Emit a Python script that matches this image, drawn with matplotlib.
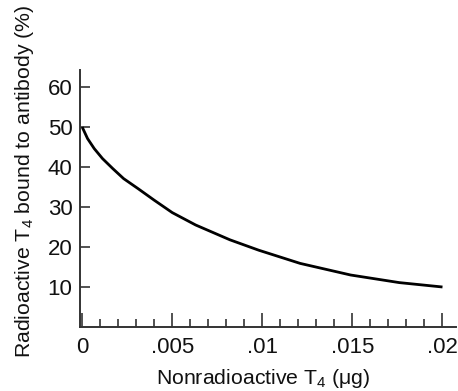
import matplotlib
matplotlib.use("Agg")
from matplotlib import pyplot as plt
from matplotlib.ticker import MultipleLocator

# values
t4_cold = [0, 0.0003, 0.00067, 0.00113, 0.0017, 0.0023, 0.0031, 0.0040, 0.0050,
           0.0063, 0.0082, 0.0098, 0.0121, 0.0149, 0.0176, 0.0200]
pct_bound = [50, 47.1, 44.6, 42.1, 39.6, 37.1, 34.6, 31.7, 28.6,
             25.5, 21.8, 19.2, 15.9, 13.0, 11.1, 10.0]

x_ticks = [0, 0.005, 0.01, 0.015, 0.02]
x_ticklabels = ['0', '.005', '.01', '.015', '.02']
y_ticks = [10, 20, 30, 40, 50, 60]

plt.rcParams['font.family'] = ['Liberation Sans', 'DejaVu Sans']
plt.rcParams['mathtext.fontset'] = 'custom'
plt.rcParams['mathtext.rm'] = 'Liberation Sans'
plt.rcParams['mathtext.it'] = 'Liberation Sans'

fig = plt.figure(figsize=(4.58, 3.91), dpi=100)
ax = fig.add_axes([80 / 458, 64 / 391, 376 / 458, 257 / 391])

ax.plot(t4_cold, pct_bound, color='black', linewidth=2.0,
        solid_capstyle='butt', solid_joinstyle='round')

ax.set_xlim(-0.00012, 0.02075)
ax.set_ylim(0, 64.25)

# axis styling: only left and bottom spines, ticks pointing in
for side in ['top', 'right']:
    ax.spines[side].set_visible(False)
for side in ['left', 'bottom']:
    ax.spines[side].set_linewidth(1.4)
    ax.spines[side].set_color('#333333')

ax.set_xticks(x_ticks)
ax.set_xticklabels(x_ticklabels)
ax.xaxis.set_minor_locator(MultipleLocator(0.001))
ax.set_yticks(y_ticks)

ax.tick_params(axis='both', which='major', direction='in', color='#333333',
               width=1.2, labelsize=16, labelcolor='#111111')
ax.tick_params(axis='x', which='major', length=10, pad=7)
ax.tick_params(axis='x', which='minor', direction='in', length=6, width=1.2, color='#333333')
ax.tick_params(axis='y', which='major', length=7, pad=5.5)

fig.text(25 / 458, 1 - 181 / 391, 'Radioactive T$_4$ bound to antibody (%)',
         rotation=90, ha='center', va='center', fontsize=15.3, color='#111111')
fig.text(263 / 458, 1 - 378 / 391, 'Nonradioactive T$_4$ (\u03bcg)',
         ha='center', va='center', fontsize=15.3, color='#111111')

plt.savefig('out.png', dpi=100)
plt.close()
